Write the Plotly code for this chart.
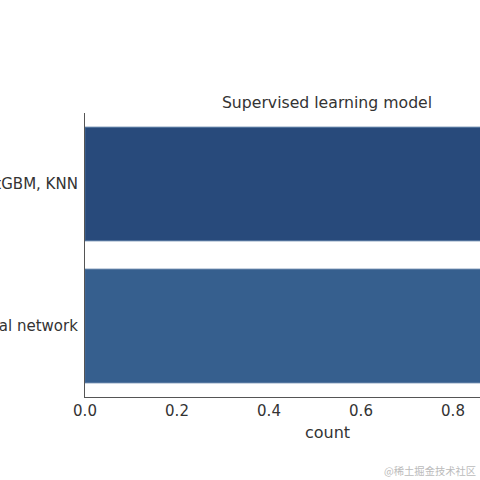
import plotly.graph_objects as go

categories = ["XGBoost, LightGBM, KNN", "Neural network"]
values = [1, 1]
colors = ["#284a7b", "#365f8e"]
tick_vals = [0.0, 0.2, 0.4, 0.6, 0.8, 1.0]
tick_text = ["0.0", "0.2", "0.4", "0.6", "0.8", "1.0"]

fig = go.Figure()
fig.add_trace(go.Bar(
    x=values, y=categories, orientation="h",
    marker=dict(color=colors, line=dict(color="#4a6e9a", width=1)),
    width=0.8,
))

FONT = "DejaVu Sans"
XC = (327 - 85) / 395  # centre of the full (clipped) axis in paper coords
fig.update_layout(
    width=480, height=480,
    margin=dict(l=85, r=0, t=113, b=83),
    plot_bgcolor="white", paper_bgcolor="white",
    showlegend=False,
    font=dict(family=FONT, size=15, color="#333333"),
    title=dict(text="Supervised learning model", x=XC, xref="paper",
               xanchor="center", y=1.0, yref="paper", yanchor="bottom",
               pad=dict(b=5), font=dict(family=FONT, size=15.7, color="#333333")),
    bargap=0.2,
)
fig.update_xaxes(
    range=[0, 395 / 460], tickvals=tick_vals, ticktext=tick_text,
    showgrid=False, zeroline=False, showline=True, linecolor="#555555", linewidth=1.2,
    ticks="", ticklen=0, tickfont=dict(size=15, color="#333333"),
)
fig.update_yaxes(
    autorange=False, range=[1.5, -0.5], categoryorder="array", categoryarray=categories,
    showgrid=False, zeroline=False, showline=True, linecolor="#555555", linewidth=1.2,
    ticks="", ticklen=0, ticklabelstandoff=3, tickfont=dict(size=15, color="#333333"),
    automargin=False,
)
fig.add_annotation(text="count", xref="paper", yref="paper",
                   x=XC, y=-(432 - 397) / 284, xanchor="center", yanchor="middle",
                   showarrow=False, font=dict(family=FONT, size=16, color="#333333"))
fig.add_annotation(text="@稀土掘金技术社区", xref="paper", yref="paper",
                   x=(478 - 85) / 395, y=-(470 - 397) / 284, xanchor="right", yanchor="middle",
                   showarrow=False, font=dict(family="Noto Sans CJK SC", size=10.3, color="#bbbbbb"))
fig.write_html("out.html")
